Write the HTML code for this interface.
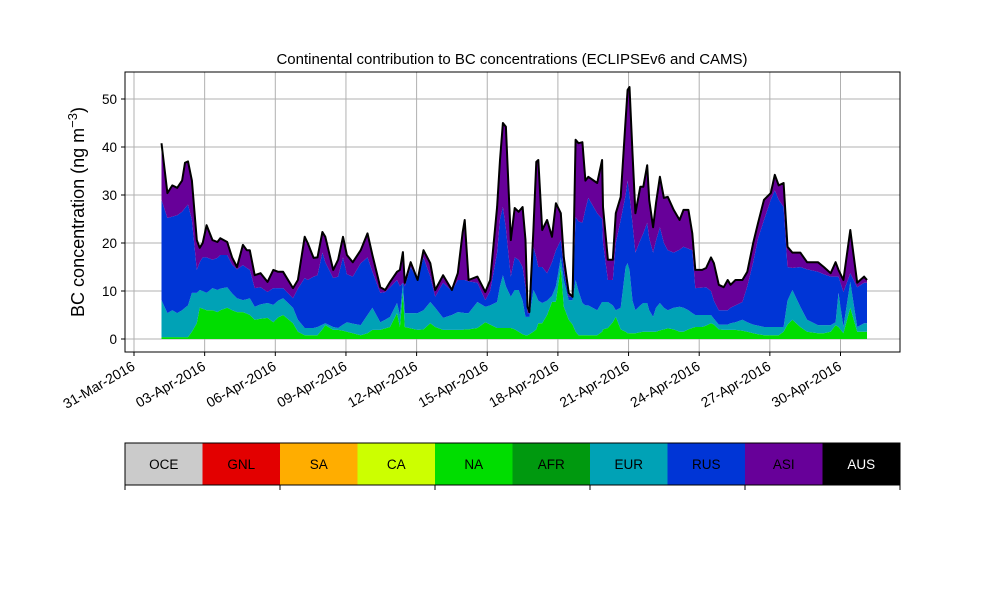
<!DOCTYPE html>
<html><head><meta charset="utf-8"><style>
html,body{margin:0;padding:0;background:#fff;}
svg{display:block;font-family:"Liberation Sans","DejaVu Sans",sans-serif;}
</style></head><body>
<svg id="chart" width="1000" height="600" viewBox="0 0 1000 600" xmlns="http://www.w3.org/2000/svg">
<rect width="1000" height="600" fill="#fff"/>
<text x="512" y="64" font-size="15" text-anchor="middle">Continental contribution to BC concentrations (ECLIPSEv6 and CAMS)</text>
<text transform="translate(84,212) rotate(-90)" font-size="18" text-anchor="middle">BC concentration (ng m<tspan dy="-7" font-size="13">−3</tspan><tspan dy="7">)</tspan></text>
<g id="grid"></g>
<g id="areas"></g>
<g id="axes"></g>
<g id="legend"></g>
</svg>
<script>
const hours=[28,34,39,44,49,52,55,59,64,67,70,74,80,85,88,95,100,105,111,115,118,123,129,136,142,147,152,162,167,174,177,183,187,192,195,203,208,213,217,223,231,238,243,251,256,261,268,271,274,276,282,289,295,302,307,315,324,330,335,337,341,350,358,363,370,373,376,379,384,388,392,396,399,401,403,407,410,412,416,421,426,430,435,438,443,447,450,453,457,460,463,472,477,478,483,488,491,496,501,503,505,508,511,516,519,523,525,529,532,536,540,544,550,556,560,565,569,572,579,583,588,591,596,601,605,608,613,620,625,631,636,642,649,653,657,662,666,671,679,686,697,703,710,715,718,723,730,737,744,747];
const totalTop=[40.8,30.4,32,31.5,33,36.7,37,33,20.6,19,20,23.7,20.6,20.2,21,20.2,17,15,19.6,18.5,18.5,13.3,13.7,11.9,14.4,14,14,10.6,12.3,21.3,20,16.9,17,22.3,21.3,14.4,16.5,21.3,17.5,16,18.5,22,17.5,10.8,10.2,11.9,14,14.4,18.1,11.7,16,12.3,18.5,15.8,10.2,13.3,10.2,13.7,22.3,24.8,12.3,13,9.8,12.3,27.5,37.3,45,44.2,20.6,27.3,26.5,27.5,20.6,6.7,5.6,22.7,36.9,37.3,22.7,24.8,21.3,28.3,26.2,17,9.6,8.8,41.5,40.8,41,33,33.8,32.5,37.3,27.5,16.5,16.5,26.2,29.6,45.6,51.9,52.5,38.7,26.2,31.7,31.7,36.2,29,23.3,28.3,33.8,29.4,29.6,26.9,24.8,26.9,26.9,22,14.4,14.4,14.8,17,15.8,11.3,10.8,12.3,11.3,12.3,12.3,14,20,24.2,29,30.4,34.2,32,32.5,19.2,18,18,16,16,15,13.7,16,14.4,12.3,22.7,11.7,13,12.3];
const rusTop=[29,25.2,25.5,25.8,26.5,27.3,28,24.8,14.4,16,17,17,16.5,16.9,17.5,17.5,15.5,14.5,15.4,14.8,14.4,10.6,10.8,9.8,10.6,10.6,10.6,8.5,10.5,12.7,12.3,13,13.3,18,16,12.7,13,17,13.5,13,15.8,17,14,9.6,9.8,10.8,12.3,11,11.7,11,15,12.3,17,13,8.8,11.7,10,12.3,12.3,12.3,12,11.7,8.1,10,18,25,27.5,23,13,17,16.5,15,10.8,5.4,5.4,19.2,17,15,15,13.7,16,18.5,20.6,14.4,8.8,8.8,25.4,24.5,24.2,27,29.4,26.2,25,20,12.3,12.3,20,24.8,30,33,30,24,18,20.6,22,24.2,21,18,20.5,23.3,20,18.5,18,18.6,19.2,18.8,18.5,10.6,10.7,10.8,10,8,6,6,6,6.5,7,7.7,11,16,21,24.8,29,31,29,27.5,15,14.8,15,14.5,14,13.5,13,13,13,9.8,13.7,10.8,11.7,11.7];
const eurTop=[8.1,5.4,6,5.4,6,6.5,7,9.6,9.6,10.2,10,9.6,10.6,10.2,10.5,10.8,9.5,8.5,8.1,8.3,8.5,6.7,7.2,7.5,7.1,8,8.5,6.5,4,2.3,2.3,2.3,2.5,3,3.3,2.5,2.3,3,3.5,3.2,2.9,5,6.5,3.5,4,4.6,7.5,5,11.7,5.4,5.4,5.4,6,7.7,6.5,4.4,5,5.6,5.5,5.4,5.4,7.7,6.7,7,7.7,11,13.3,11,8.8,10.2,10.2,8,4.6,4.6,4.6,10.2,9,8,7.5,8,9,11,17,12.3,8.1,8.1,12.3,10,7.5,7,7,6,7.7,7.7,7.7,7,6,6.5,15,15.8,14.4,8,6,7,7.5,7.5,6,4.6,6.5,7.5,6.5,6,6.5,6.7,6.5,6,5.4,5,5,5,5,4.2,3,3,3,3.3,3.5,4,3.5,3,2.8,2.5,2.5,2.5,2.5,2.5,8,10.2,6.7,4,2.9,2.9,2.9,3.5,9.6,2.5,11.9,2.5,3.3,3.3];
const naTop=[0.4,0.4,0.4,0.4,0.4,0.4,0.4,1.5,3.3,6.5,6.3,6,6,5.6,6,6.5,6,5.6,5.6,5.3,5,4,4.2,4.4,3.5,4.5,5,3.3,1.5,0.8,0.8,0.8,0.8,2,2.9,1.9,1.9,1.7,1.5,1.2,0.8,1.2,1.9,1.9,2.2,2.5,5.4,2.5,9.6,2.5,2.2,1.9,2,3.3,2.5,1.9,1.9,1.9,1.9,2,2,2.3,3.5,3,2.3,2.3,2.3,2.3,2.3,2,1.5,1,0.8,0.8,1,1.5,2,3.3,3.3,5,7.7,7.8,15,6.7,4,3,1.5,0.8,0.8,0.8,0.8,0.8,1.5,2,2.3,3.5,4.6,2,1.5,1.2,1.2,1.2,1.2,1.4,1.5,1.5,1.5,1.5,1.5,1.8,2,2.2,2,1.5,1.5,2,2.3,2.5,2.5,2.8,3.3,3,2,1.9,1.9,1.9,1.9,1.7,1.5,1.2,1,0.8,0.8,0.8,0.8,1.5,3,4,2.5,1.5,1.2,1.2,1.5,2.9,2.5,1.2,6.5,1.5,1.5,1.5];
const yTicks=[0,10,20,30,40,50];
const xTickDays=[0,3,6,9,12,15,18,21,24,27,30];
const xTickLabels=["31-Mar-2016","03-Apr-2016","06-Apr-2016","09-Apr-2016","12-Apr-2016","15-Apr-2016","18-Apr-2016","21-Apr-2016","24-Apr-2016","27-Apr-2016","30-Apr-2016"];
const legendRegions=["OCE","GNL","SA","CA","NA","AFR","EUR","RUS","ASI","AUS"];
const legendColors=["#cbcbcb","#e30000","#ffad00","#ccff00","#00dd00","#00990f","#00a2b6","#0035d6","#670099","#000000"];

(function(){
const NS="http://www.w3.org/2000/svg";
const PL=125,PR=900,PT=72,PB=352;
function xs(h){return 134+h/24*23.55;}
function ys(v){return 339-v*4.8;}
function mk(tag,attrs,parent){const e=document.createElementNS(NS,tag);for(const k in attrs)e.setAttribute(k,attrs[k]);parent.appendChild(e);return e;}
const grid=document.getElementById('grid'),areas=document.getElementById('areas'),axes=document.getElementById('axes'),legend=document.getElementById('legend');
const N=Math.min(hours.length,totalTop.length,rusTop.length,eurTop.length,naTop.length);

yTicks.forEach(v=>{const g=mk('line',{x1:PL,x2:PR,y1:ys(v),y2:ys(v),stroke:'#b0b0b0','stroke-width':1},grid);

});
xTickDays.forEach(d=>{const g=mk('line',{x1:xs(d*24),x2:xs(d*24),y1:PT,y2:PB,stroke:'#b0b0b0','stroke-width':1},grid);

});

const layers=[[naTop,null,'#00dd00','area-na'],[eurTop,naTop,'#00a2b6','area-eur'],[rusTop,eurTop,'#0035d6','area-rus'],[totalTop,rusTop,'#670099','area-asi']];
layers.forEach(([hi,lo,col,name])=>{
  let d='';
  for(let i=0;i<N;i++){const v=lo?Math.max(hi[i],lo[i]):hi[i];d+=(i?'L':'M')+xs(hours[i]).toFixed(1)+','+ys(v).toFixed(1);}
  for(let i=N-1;i>=0;i--){const v=lo?lo[i]:0;d+='L'+xs(hours[i]).toFixed(1)+','+ys(v).toFixed(1);}
  const p=mk('path',{d:d+'Z',fill:col,stroke:'none'},areas);
  
  
});
let ld='';for(let i=0;i<N;i++){ld+=(i?'L':'M')+xs(hours[i]).toFixed(1)+','+ys(totalTop[i]).toFixed(1);}
const tl=mk('path',{d:ld,fill:'none',stroke:'#000','stroke-width':2,'stroke-linejoin':'round'},areas);



const fr=mk('rect',{x:PL,y:PT,width:PR-PL,height:PB-PT,fill:'none',stroke:'#000','stroke-width':1},axes);


yTicks.forEach(v=>{mk('line',{x1:PL-4,x2:PL,y1:ys(v),y2:ys(v),stroke:'#000'},axes);
const t=mk('text',{x:PL-8,y:ys(v)+5,'font-size':13.5,'text-anchor':'end'},axes);t.textContent=v;

});
xTickDays.forEach((d,i)=>{const x=xs(d*24);mk('line',{x1:x,x2:x,y1:PB,y2:PB+4,stroke:'#000'},axes);
const t=mk('text',{x:0,y:0,'font-size':14,'text-anchor':'end',transform:`translate(${x+2},${PB+17}) rotate(-30)`},axes);t.textContent=xTickLabels[i];

});

const w=(PR-PL)/legendRegions.length;
legendRegions.forEach((r,i)=>{const x=PL+i*w;
const c=mk('rect',{x:x,y:443,width:w,height:42,fill:legendColors[i]},legend);


const t=mk('text',{x:x+w/2,y:469,'font-size':13.5,'text-anchor':'middle',fill:r==='AUS'?'#fff':'#000'},legend);t.textContent=r;

});
mk('rect',{x:PL,y:443,width:PR-PL,height:42,fill:'none',stroke:'#000'},legend);
for(let k=0;k<=5;k++){const x=PL+k*(PR-PL)/5;mk('line',{x1:x,x2:x,y1:485,y2:490,stroke:'#000'},legend);}
})();
</script>
</body></html>
